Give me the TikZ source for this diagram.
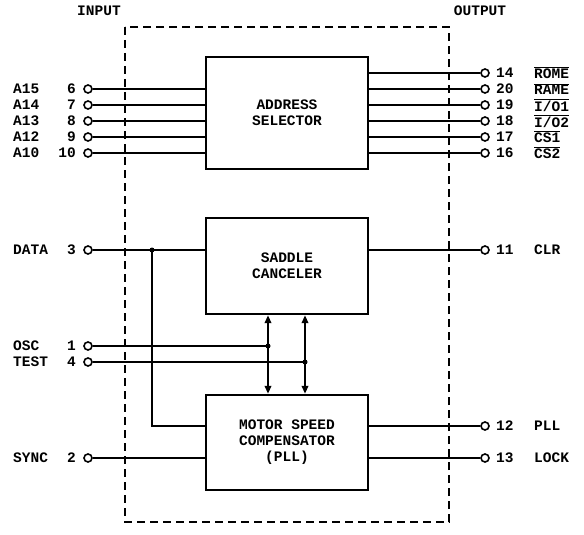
\documentclass[tikz,border=0pt]{standalone}
\usepackage{fontspec}
\newfontfamily\pix{Liberation Mono}
\usetikzlibrary{arrows.meta}
\tikzset{
  wire/.style={line width=2.2pt},
  pin/.style={circle,draw,line width=1.6pt,minimum size=8pt,inner sep=0pt,fill=white},
  txt/.style={font=\pix\bfseries\fontsize{14.5}{16}\selectfont,inner sep=0pt},
  blk/.style={draw,line width=2.4pt,minimum width=162pt,align=center,inner sep=0pt,
    font=\pix\bfseries\fontsize{14.5}{16}\selectfont},
  dot/.style={circle,fill,inner sep=0pt,minimum size=5pt},
  frame/.style={line width=2.2pt,dash pattern=on 8pt off 5pt},
  biarrow/.style={line width=2.2pt,{Triangle[length=8pt,width=6.5pt]}-{Triangle[length=8pt,width=6.5pt]}}
}
\newcommand{\ovl}[1]{$\overline{\mbox{#1}}$}
\begin{document}
\begin{tikzpicture}[x=1pt,y=-1pt]
\useasboundingbox (0,0) rectangle (584,535);
\draw[frame] (125,27) rectangle (449,522);
\node[txt] (inlab) at (99,11) {INPUT};
\node[txt] (outlab) at (480,11) {OUTPUT};
% blocks
\node[blk,minimum height=112pt] (addr) at (287,113) {ADDRESS\\SELECTOR};
\node[blk,minimum height=96pt] (sad) at (287,266) {SADDLE\\CANCELER};
\node[blk,minimum height=95pt] (mot) at (287,442.5) {MOTOR SPEED\\COMPENSATOR\\(PLL)};
% left pins
\foreach \nm/\num/\yy in {A15/6/89,A14/7/105,A13/8/121,A12/9/137,A10/10/153,DATA/3/250,OSC/1/346,TEST/4/362,SYNC/2/458}{
  \node[pin] (p\nm) at (88,\yy) {};
  \node[txt,anchor=west] (n\nm) at (13,\yy) {\nm};
  \node[txt,anchor=east] (k\nm) at (76,\yy) {\num};
}
% right pins
\foreach \id/\num/\lab/\yy in {r14/14/\ovl{ROME}/73,r20/20/\ovl{RAME}/89,r19/19/\ovl{I/O1}/105,r18/18/\ovl{I/O2}/121,r17/17/\ovl{CS1}/137,r16/16/\ovl{CS2}/153,r11/11/CLR/250,r12/12/PLL/426,r13/13/LOCK/458}{
  \node[pin] (p\id) at (485,\yy) {};
  \node[txt,anchor=west] (k\id) at (496,\yy) {\num};
  \node[txt,anchor=west] (n\id) at (534,\yy) {\lab};
}
% address inputs / outputs
\foreach \nm in {A15,A14,A13,A12,A10}{
  \draw[wire] (p\nm) -- (p\nm -| addr.west);
}
\foreach \id in {r14,r20,r19,r18,r17,r16}{
  \draw[wire] (addr.east |- p\id) -- (p\id);
}
% saddle canceler
\draw[wire] (pDATA) -- (pDATA -| sad.west);
\draw[wire] (sad.east |- pr11) -- (pr11);
\node[dot] (jD) at (152,250) {};
\draw[wire] (jD.center) |- (pr12 -| mot.west);
% osc / test
\node[dot] (jO) at (268,346) {};
\node[dot] (jT) at (305,362) {};
\draw[wire] (pOSC) -- (jO.center);
\draw[wire] (pTEST) -- (jT.center);
\draw[biarrow] (sad.south -| jO) -- (mot.north -| jO);
\draw[biarrow] (sad.south -| jT) -- (mot.north -| jT);
% motor
\draw[wire] (pSYNC) -- (pSYNC -| mot.west);
\draw[wire] (mot.east |- pr12) -- (pr12);
\draw[wire] (mot.east |- pr13) -- (pr13);
\end{tikzpicture}
\end{document}
